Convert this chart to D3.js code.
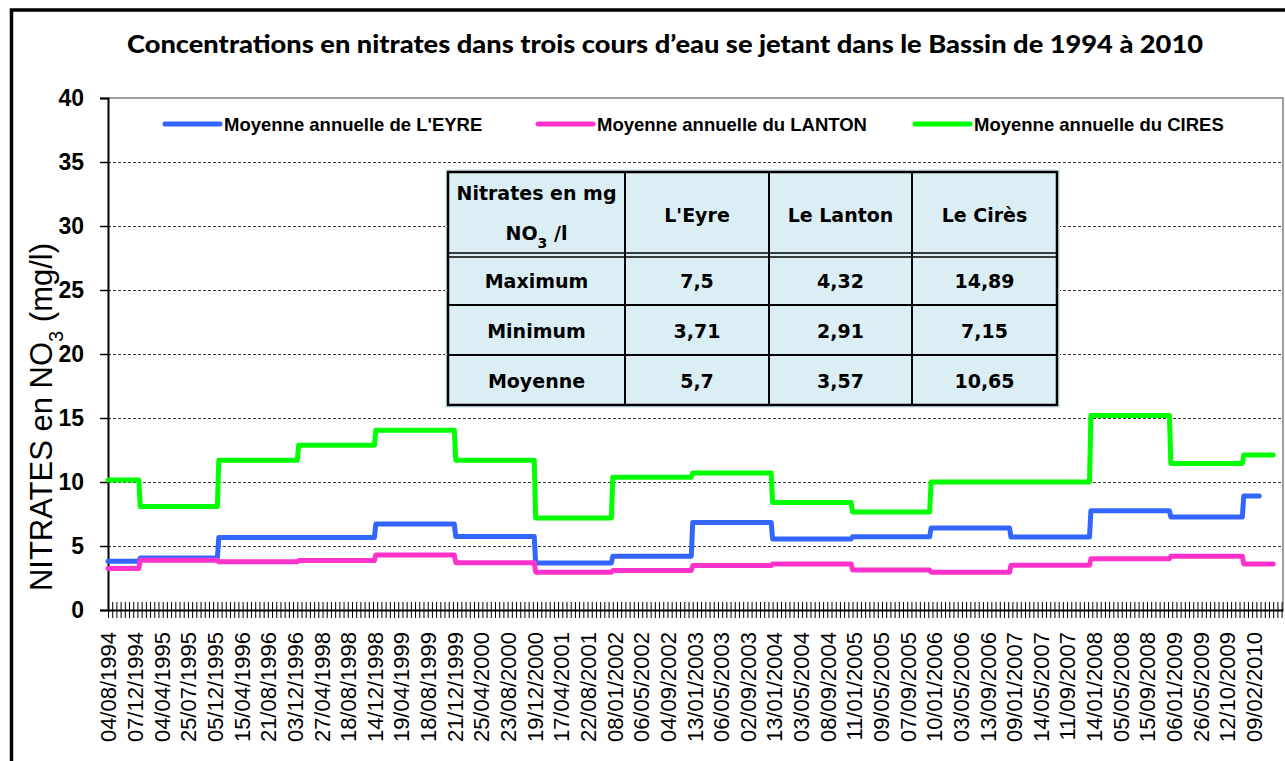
<!DOCTYPE html>
<html>
<head>
<meta charset="utf-8">
<script src="https://cdn.jsdelivr.net/npm/d3@7"></script>
<style>
  body { margin: 0; background: #fff; }
  svg { display: block; }
</style>
</head>
<body>
<svg id="chart" width="1285" height="761"></svg>
<script>
// ---- Data ---------------------------------------------------------------
const chartTitle = "Concentrations en nitrates dans trois cours d’eau se jetant dans le Bassin de 1994 à 2010";

// Labelled sampling dates on the category axis (one label every `labelEvery` categories)
const dateLabels = [
  "04/08/1994", "07/12/1994", "04/04/1995", "25/07/1995", "05/12/1995", "15/04/1996",
  "21/08/1996", "03/12/1996", "27/04/1998", "18/08/1998", "14/12/1998", "19/04/1999",
  "18/08/1999", "21/12/1999", "25/04/2000", "23/08/2000", "19/12/2000", "17/04/2001",
  "22/08/2001", "08/01/2002", "06/05/2002", "04/09/2002", "13/01/2003", "06/05/2003",
  "02/09/2003", "13/01/2004", "03/05/2004", "08/09/2004", "11/01/2005", "09/05/2005",
  "07/09/2005", "10/01/2006", "03/05/2006", "13/09/2006", "09/01/2007", "14/05/2007",
  "11/09/2007", "14/01/2008", "05/05/2008", "15/09/2008", "06/01/2009", "26/05/2009",
  "12/10/2009", "09/02/2010"
];
const categoryCount = 839;
const labelEvery = 19;
const tickEvery = 3;

// First category of each annual-mean period
const periodStarts = [0, 23, 79, 136, 191, 248, 305, 360, 417, 474, 531, 587, 644, 701, 758, 810];

// Annual means (mg NO3/l) for each period
const eyreMeans   = [3.80, 4.07, 5.67, 5.67, 6.71, 5.75, 3.68, 4.20, 6.84, 5.55, 5.72, 6.40, 5.70, 7.75, 7.26, 8.90];
const lantonMeans = [3.24, 3.89, 3.76, 3.86, 4.30, 3.70, 2.95, 3.08, 3.47, 3.60, 3.12, 2.95, 3.50, 4.00, 4.20, 3.60];
const ciresMeans  = [10.15, 8.08, 11.70, 12.87, 14.04, 11.70, 7.18, 10.37, 10.70, 8.40, 7.65, 10.00, 10.00, 15.20, 11.45, 12.10];

// Last category reached by each series
const eyreLast = 821;
const lantonLast = 831;
const ciresLast = 831;

const seriesNames  = ["Moyenne annuelle de L'EYRE", "Moyenne annuelle du LANTON", "Moyenne annuelle du CIRES"];
const seriesColors = ["#3366FF", "#FF33CC", "#00FF00"];

const yTickValues = [0, 5, 10, 15, 20, 25, 30, 35, 40];

// Summary table
const tableColumns = ["L'Eyre", "Le Lanton", "Le Cirès"];
const tableRowNames = ["Maximum", "Minimum", "Moyenne"];
const tableMax = [7.5, 4.32, 14.89];
const tableMin = [3.71, 2.91, 7.15];
const tableMean = [5.7, 3.57, 10.65];

// ---- Layout -------------------------------------------------------------
const svg = d3.select("#chart");
const plot = { left: 108, right: 1283, top: 98, bottom: 610 };

const x = d3.scaleLinear().domain([0, categoryCount - 1]).range([plot.left, plot.right]);
const y = d3.scaleLinear().domain([0, 40]).range([plot.bottom, plot.top]);

// Outer chart frame
svg.append("rect")
  .attr("x", 11.5).attr("y", 10).attr("width", 1300).attr("height", 800)
  .attr("fill", "#fff").attr("stroke", "#000").attr("stroke-width", 3.5);

// Title
svg.append("text")
  .attr("x", 127).attr("y", 53)
  .attr("textLength", 1076).attr("lengthAdjust", "spacingAndGlyphs")
  .style("font-family", "Lato, 'Open Sans', sans-serif")
  .style("font-weight", "900").style("font-size", "24px")
  .text(chartTitle);

// Plot area border (top and right, grey)
svg.append("path")
  .attr("d", `M${plot.left},${plot.top}H${plot.right}V${plot.bottom}`)
  .attr("fill", "none").attr("stroke", "#808080").attr("stroke-width", 1.5);

// Horizontal dashed gridlines
svg.append("g")
  .selectAll("line")
  .data(yTickValues.filter(v => v > 0 && v < 40))
  .join("line")
  .attr("x1", plot.left).attr("x2", plot.right)
  .attr("y1", d => Math.round(y(d)) + 0.5).attr("y2", d => Math.round(y(d)) + 0.5)
  .attr("stroke", "#333").attr("stroke-width", 1).attr("stroke-dasharray", "3,2");

// Y axis
const yAxis = svg.append("g")
  .attr("transform", `translate(${plot.left},0)`)
  .call(d3.axisLeft(y).tickValues(yTickValues).tickSize(8).tickPadding(16));
yAxis.select(".domain").attr("stroke", "#000").attr("stroke-width", 2);
yAxis.selectAll(".tick line").attr("stroke", "#000").attr("stroke-width", 1.5);
yAxis.selectAll(".tick text")
  .style("font-family", "'Liberation Sans', Arial, sans-serif")
  .style("font-weight", "bold").style("font-size", "23px").attr("fill", "#000");

// Y axis title with subscript
const yTitle = svg.append("text")
  .attr("transform", "translate(52,417) rotate(-90)")
  .attr("text-anchor", "middle")
  .style("font-family", "'Liberation Sans', Arial, sans-serif")
  .style("font-size", "31px").attr("fill", "#000");
yTitle.append("tspan").text("NITRATES en NO");
yTitle.append("tspan").attr("baseline-shift", "sub").style("font-size", "20px").text("3");
yTitle.append("tspan").text(" (mg/l)");

// X axis: dense minor ticks crossing the axis line
const labelIndex = dateLabels.map((_, i) => i * labelEvery);
const tickIndex = d3.range(0, categoryCount, tickEvery);

const xTicks = svg.append("g")
  .attr("transform", `translate(0,${plot.bottom - 8})`)
  .call(d3.axisBottom(x).tickValues(tickIndex).tickSize(16).tickFormat(""));
xTicks.select(".domain").remove();
xTicks.selectAll(".tick line").attr("stroke", "#000").attr("stroke-width", 1);

const xAxis = svg.append("g")
  .attr("transform", `translate(0,${plot.bottom})`)
  .call(d3.axisBottom(x).tickValues(labelIndex).tickSize(0)
        .tickFormat((d, i) => dateLabels[i]));
xAxis.select(".domain").attr("stroke", "#000").attr("stroke-width", 2);
xAxis.selectAll(".tick text")
  .attr("transform", "rotate(-90)")
  .attr("text-anchor", "end")
  .attr("x", -22).attr("y", 0).attr("dy", "0.36em")
  .style("font-family", "'Liberation Sans', Arial, sans-serif")
  .style("font-size", "22px").attr("fill", "#000");

// Annual-mean step lines
function stepPoints(means, last) {
  const pts = [];
  means.forEach((v, k) => {
    const start = periodStarts[k];
    const end = k < means.length - 1 ? periodStarts[k + 1] - 1 : last;
    pts.push([start, v], [end, v]);
  });
  return pts;
}
const series = [
  stepPoints(eyreMeans, eyreLast),
  stepPoints(lantonMeans, lantonLast),
  stepPoints(ciresMeans, ciresLast)
];
const line = d3.line().x(d => x(d[0])).y(d => y(d[1]));
svg.append("g")
  .selectAll("path")
  .data(series)
  .join("path")
  .attr("d", line)
  .attr("fill", "none")
  .attr("stroke", (d, i) => seriesColors[i])
  .attr("stroke-width", 5)
  .attr("stroke-linejoin", "round")
  .attr("stroke-linecap", "round");

// Legend
const legendX = [165, 538, 915];
const legend = svg.append("g").selectAll("g")
  .data(seriesNames)
  .join("g")
  .attr("transform", (d, i) => `translate(${legendX[i]},124)`);
legend.append("line")
  .attr("x1", 0).attr("x2", 55).attr("y1", 0).attr("y2", 0)
  .attr("stroke", (d, i) => seriesColors[i]).attr("stroke-width", 5)
  .attr("stroke-linecap", "round");
legend.append("text")
  .attr("x", 59).attr("y", 6.5)
  .style("font-family", "'Liberation Sans', Arial, sans-serif")
  .style("font-weight", "bold").style("font-size", "18.5px")
  .text(d => d);

// Summary table
const tbl = { left: 448, top: 172, colEdges: [448, 625, 769, 912, 1057], rowEdges: [172, 255, 305, 355, 405] };
const tg = svg.append("g");
tg.append("rect")
  .attr("x", tbl.left - 3).attr("y", tbl.top - 3)
  .attr("width", tbl.colEdges[4] - tbl.left + 6).attr("height", tbl.rowEdges[4] - tbl.top + 6)
  .attr("fill", "#DAEEF3");
tg.append("rect")
  .attr("x", tbl.left).attr("y", tbl.top)
  .attr("width", tbl.colEdges[4] - tbl.left).attr("height", tbl.rowEdges[4] - tbl.top)
  .attr("fill", "#DAEEF3").attr("stroke", "#000").attr("stroke-width", 2.5);
tg.selectAll("line.col")
  .data(tbl.colEdges.slice(1, 4))
  .join("line")
  .attr("x1", d => d).attr("x2", d => d)
  .attr("y1", tbl.top).attr("y2", tbl.rowEdges[4])
  .attr("stroke", "#000").attr("stroke-width", 2);
tg.selectAll("line.row")
  .data([253, 257, 305, 355])
  .join("line")
  .attr("x1", tbl.left).attr("x2", tbl.colEdges[4])
  .attr("y1", d => d).attr("y2", d => d)
  .attr("stroke", "#000").attr("stroke-width", d => (d > 258 ? 2 : 1.5));

const tFont = "'DejaVu Sans', Verdana, sans-serif";
function cellText(cx, by, txt) {
  return tg.append("text")
    .attr("x", cx).attr("y", by).attr("text-anchor", "middle")
    .style("font-family", tFont).style("font-weight", "bold").style("font-size", "19px")
    .attr("fill", "#000").text(txt);
}
const colCenter = i => (tbl.colEdges[i] + tbl.colEdges[i + 1]) / 2;
cellText(colCenter(0), 200, "Nitrates en mg");
const h2 = cellText(colCenter(0), 240, null);
h2.append("tspan").text("NO");
h2.append("tspan").attr("baseline-shift", "sub").style("font-size", "14px").text("3");
h2.append("tspan").text(" /l");
tableColumns.forEach((c, i) => cellText(colCenter(i + 1), 222, c));

const fmt = v => String(v).replace(".", ",");
[tableMax, tableMin, tableMean].forEach((vals, r) => {
  const by = tbl.rowEdges[r + 1] + 33;
  cellText(colCenter(0), by, tableRowNames[r]);
  vals.forEach((v, c) => cellText(colCenter(c + 1), by, fmt(v)));
});
</script>
</body>
</html>
